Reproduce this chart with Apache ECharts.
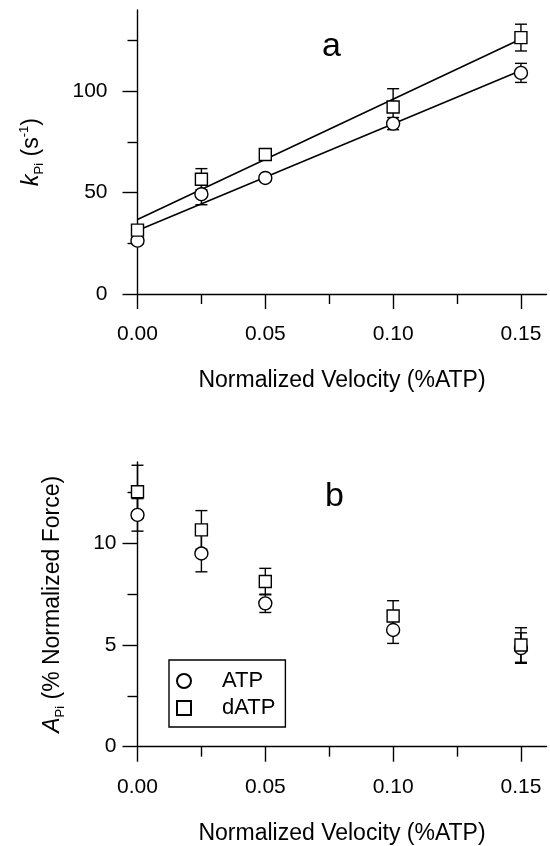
<!DOCTYPE html>
<html>
<head>
<meta charset="utf-8">
<script src="https://cdn.jsdelivr.net/npm/echarts@6/dist/echarts.min.js"></script>
<style>
html,body{margin:0;padding:0;background:#fff;}
#c{width:550px;height:846px;}
</style>
</head>
<body>
<div id="c"></div>
<script>
// ---------- data ----------
const velocity = [0, 0.025, 0.05, 0.10, 0.15];
const xMajorTicks = [0, 0.05, 0.10, 0.15];
const xMinorTicks = [0.025, 0.075, 0.125];

// panel a: k_Pi (s^-1)
const kATP = [26.3, 49.2, 57.2, 84.0, 109.0];
const kATPErr = [1.5, 5.2, 1.5, 3.0, 4.7];
const kdATP = [31.5, 56.6, 68.8, 92.2, 126.4];
const kdATPErr = [1.5, 5.2, 1.5, 9.0, 6.6];
const fitX = [0, 0.15];
const fitATP = [31.3, 110.2];
const fitdATP = [36.7, 125.7];
const yAMajor = [0, 50, 100];
const yAMinor = [25, 75, 125];

// panel b: A_Pi (% Normalized Force)
const aATP = [11.4, 9.5, 7.05, 5.74, 4.85];
const aATPErr = [0.8, 0.9, 0.45, 0.66, 0.75];
const adATP = [12.54, 10.66, 8.12, 6.43, 5.0];
const adATPErr = [1.3, 0.95, 0.65, 0.75, 0.85];
const yBMajor = [0, 5, 10];
const yBMinor = [2.5, 7.5, 12.5];

// ---------- build ----------
const FONT = 'Liberation Sans, Arial, sans-serif';
const pts = (xs, ys) => xs.map((x, i) => [x, ys[i]]);
const errPts = (xs, ys, es) => xs.map((x, i) => [x, ys[i], es[i]]);

function errSeries(xi, yi, data) {
  return {
    type: 'custom', xAxisIndex: xi, yAxisIndex: yi, z: 2, silent: true,
    data: data,
    renderItem: function (params, api) {
      const x = api.value(0), y = api.value(1), e = api.value(2);
      const top = api.coord([x, y + e]);
      const bot = api.coord([x, y - e]);
      const hw = 6;
      const st = { stroke: '#000', lineWidth: 1.4 };
      return {
        type: 'group',
        children: [
          { type: 'line', shape: { x1: top[0], y1: top[1], x2: bot[0], y2: bot[1] }, style: st },
          { type: 'line', shape: { x1: top[0] - hw, y1: top[1], x2: top[0] + hw, y2: top[1] }, style: st },
          { type: 'line', shape: { x1: bot[0] - hw, y1: bot[1], x2: bot[0] + hw, y2: bot[1] }, style: st }
        ]
      };
    }
  };
}
function scatter(name, xi, yi, data, symbol, size) {
  return {
    type: 'scatter', name: name, xAxisIndex: xi, yAxisIndex: yi, z: 3,
    symbol: symbol, symbolSize: size, data: data,
    itemStyle: { color: '#fff', borderColor: '#000', borderWidth: 1.4, opacity: 1 }
  };
}
function fitLine(xi, yi, data) {
  return {
    type: 'line', xAxisIndex: xi, yAxisIndex: yi, z: 1, silent: true,
    showSymbol: false, symbol: 'none', data: data,
    lineStyle: { color: '#000', width: 1.5 }
  };
}

const axisLineStyle = { color: '#000', width: 1.4 };
function xMain(grid, nameGap) {
  return {
    type: 'value', gridIndex: grid, min: 0, max: 0.16, position: 'bottom',
    axisLine: { show: true, onZero: false, lineStyle: axisLineStyle },
    axisTick: { show: true, length: 15, lineStyle: axisLineStyle, customValues: xMajorTicks },
    axisLabel: { show: true, margin: 30, fontSize: 21, color: '#000', fontFamily: FONT,
      customValues: xMajorTicks, formatter: v => v.toFixed(2) },
    splitLine: { show: false },
    name: 'Normalized Velocity (%ATP)', nameLocation: 'middle', nameGap: nameGap,
    nameTextStyle: { fontSize: 23, color: '#000', fontFamily: FONT }
  };
}
function xMinor(grid) {
  return {
    type: 'value', gridIndex: grid, min: 0, max: 0.16, position: 'bottom',
    axisLine: { show: false, onZero: false },
    axisTick: { show: true, length: 10, lineStyle: axisLineStyle, customValues: xMinorTicks },
    axisLabel: { show: false }, splitLine: { show: false }
  };
}
function yMain(grid, max, majors, margin, nameRich, nameGap) {
  return {
    type: 'value', gridIndex: grid, min: 0, max: max, position: 'left',
    axisLine: { show: true, onZero: false, lineStyle: axisLineStyle },
    axisTick: { show: true, length: 15, lineStyle: axisLineStyle, customValues: majors },
    axisLabel: { show: true, margin: margin, fontSize: 21, color: '#000', fontFamily: FONT,
      customValues: majors },
    splitLine: { show: false },
    name: nameRich, nameLocation: 'middle', nameGap: nameGap, nameRotate: 90,
    nameTextStyle: {
      fontSize: 23, color: '#000', fontFamily: FONT, lineHeight: 28,
      rich: {
        i: { fontSize: 23, fontStyle: 'italic', fontFamily: FONT, color: '#000', lineHeight: 28 },
        sub: { fontSize: 13, fontFamily: FONT, color: '#000', verticalAlign: 'bottom', lineHeight: 14 },
        sup: { fontSize: 13, fontFamily: FONT, color: '#000', verticalAlign: 'top', lineHeight: 14 },
        n: { fontSize: 23, fontFamily: FONT, color: '#000', lineHeight: 28 }
      }
    }
  };
}
function yMinor(grid, max, minors) {
  return {
    type: 'value', gridIndex: grid, min: 0, max: max, position: 'left',
    axisLine: { show: false, onZero: false },
    axisTick: { show: true, length: 10, lineStyle: axisLineStyle, customValues: minors },
    axisLabel: { show: false }, splitLine: { show: false }
  };
}

const option = {
  animation: false,
  backgroundColor: '#fff',
  grid: [
    { left: 137.5, right: 3.5, top: 10, height: 284 },
    { left: 137.5, right: 3.5, top: 462, height: 284.7 }
  ],
  xAxis: [xMain(0, 75), xMinor(0), xMain(1, 75), xMinor(1)],
  yAxis: [
    yMain(0, 140, yAMajor, 30, '{i|k}{sub|Pi}{n| (s}{sup|-1}{n|)}', 92),
    yMinor(0, 140, yAMinor),
    yMain(1, 14, yBMajor, 21, '{i|A}{sub|Pi}{n| (% Normalized Force)}', 71),
    yMinor(1, 14, yBMinor)
  ],
  legend: {
    left: 169, top: 660, orient: 'vertical',
    padding: [10, 10, 8, 7], itemGap: 5,
    itemWidth: 14, itemHeight: 14,
    borderColor: '#000', borderWidth: 1.4, backgroundColor: '#fff',
    textStyle: { fontSize: 22, color: '#000', fontFamily: FONT, lineHeight: 22, padding: [0, 0, 0, 26] },
    data: [{ name: 'ATP', icon: 'circle' }, { name: 'dATP', icon: 'rect' }],
    selectedMode: false
  },
  graphic: [
    { type: 'text', left: 322, top: 30, style: { text: 'a', fontSize: 34, fill: '#000', fontFamily: FONT } },
    { type: 'text', left: 325, top: 480, style: { text: 'b', fontSize: 34, fill: '#000', fontFamily: FONT } }
  ],
  series: [
    fitLine(0, 0, pts(fitX, fitATP)),
    fitLine(0, 0, pts(fitX, fitdATP)),
    errSeries(0, 0, errPts(velocity, kATP, kATPErr)),
    errSeries(0, 0, errPts(velocity, kdATP, kdATPErr)),
    scatter('ATP', 0, 0, pts(velocity, kATP), 'circle', 13),
    scatter('dATP', 0, 0, pts(velocity, kdATP), 'rect', 12),
    errSeries(2, 2, errPts(velocity, aATP, aATPErr)),
    errSeries(2, 2, errPts(velocity, adATP, adATPErr)),
    scatter('ATP', 2, 2, pts(velocity, aATP), 'circle', 13),
    scatter('dATP', 2, 2, pts(velocity, adATP), 'rect', 12)
  ]
};
const chart = echarts.init(document.getElementById('c'), null, { renderer: 'canvas' });
chart.setOption(option);
</script>
</body>
</html>
